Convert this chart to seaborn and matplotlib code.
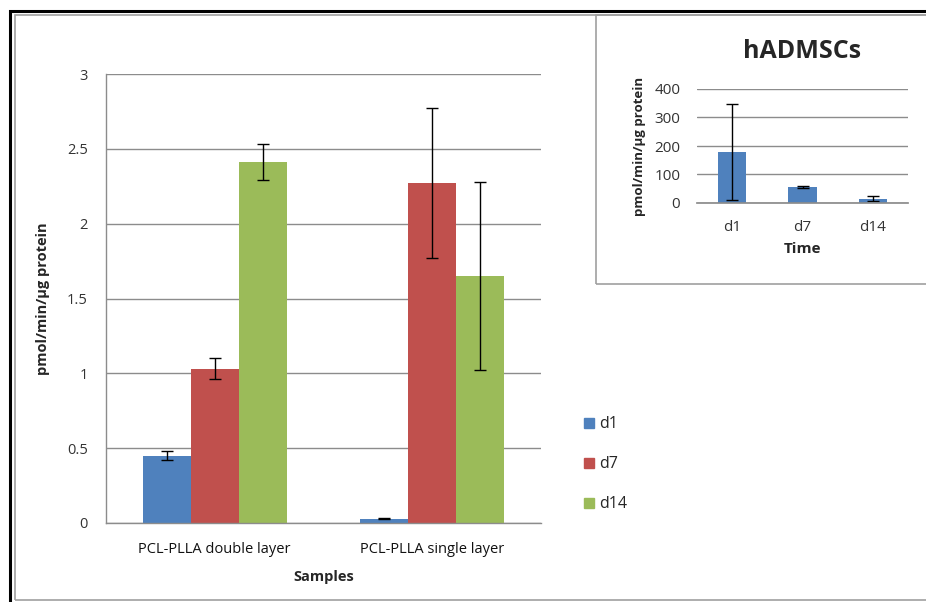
import matplotlib
matplotlib.use("Agg")
import matplotlib.pyplot as plt
import matplotlib.patches as mpatches
import seaborn as sns
import pandas as pd
import numpy as np

# ---- data ----
samples = ["PCL-PLLA double layer", "PCL-PLLA single layer"]
days = ["d1", "d7", "d14"]
vals_double = [0.45, 1.03, 2.41]
err_double = [0.03, 0.07, 0.12]
vals_single = [0.03, 2.27, 1.65]
err_single = [0.005, 0.50, 0.63]

inset_days = ["d1", "d7", "d14"]
inset_vals = [178, 57, 15]
inset_err = [168, 3, 8]

colors = ["#4F81BD", "#C0504D", "#9BBB59"]

sns.set_theme(style="white")
plt.rcParams["font.family"] = ["Open Sans", "DejaVu Sans"]

rows = []
for s, vals in zip(samples, [vals_double, vals_single]):
    for d, v in zip(days, vals):
        rows.append({"Samples": s, "Day": d, "Value": v})
df = pd.DataFrame(rows)
errs = {samples[0]: err_double, samples[1]: err_single}

fig = plt.figure(figsize=(9.26, 6.02), dpi=100)

# outer frame (extends beyond right and bottom edges, as in the reference)
fig.patches.append(mpatches.Rectangle((10/926, -0.05), 1.0, 1 - 11/602 + 0.05,
                                      transform=fig.transFigure, fill=False,
                                      edgecolor="black", linewidth=2.2))
fig.patches.append(mpatches.Rectangle((15/926, 1 - 600/602), 1.0, 585/602,
                                      transform=fig.transFigure, fill=False,
                                      edgecolor="#a0a0a0", linewidth=1.2))

ax = fig.add_axes([106/926, 1 - 523/602, (541 - 106)/926, (523 - 74)/602])
sns.barplot(data=df, x="Samples", y="Value", hue="Day", hue_order=days,
            palette=colors, width=0.66, errorbar=None, ax=ax, saturation=1,
            linewidth=0, legend=False)
bar_containers = list(ax.containers)
for ci, cont in enumerate(bar_containers):
    for bi, bar in enumerate(cont.patches):
        x = bar.get_x() + bar.get_width() / 2
        y = bar.get_height()
        e = errs[samples[bi]][ci]
        ax.errorbar(x, y, yerr=e, color="black", capsize=4, elinewidth=1, capthick=1)

ax.set_xlim(-0.5, 1.5)
ax.set_ylim(0, 3)
ax.set_yticks([0, 0.5, 1, 1.5, 2, 2.5, 3])
ax.set_yticklabels(["0", "0.5", "1", "1.5", "2", "2.5", "3"])
ax.yaxis.grid(True, color="#8c8c8c", linewidth=1)
ax.set_axisbelow(True)
for sp in ["top", "right"]:
    ax.spines[sp].set_visible(False)
for sp in ["left", "bottom"]:
    ax.spines[sp].set_color("#8c8c8c")
    ax.spines[sp].set_linewidth(1)
ax.tick_params(axis="y", length=5, color="#8c8c8c", labelsize=10.5, pad=8, colors="#333333")
ax.tick_params(axis="x", length=0, labelsize=10.5, pad=14, colors="#111111")
ax.set_xlabel("Samples", fontsize=10.5, fontweight="bold", labelpad=9)
ax.set_ylabel("pmol/min/µg protein", fontsize=10.5, fontweight="bold", labelpad=12)

handles = [mpatches.Patch(color=c, label=d) for c, d in zip(colors, days)]
fig.legend(handles=handles, loc="upper left", bbox_to_anchor=(570/926, 1 - 402/602),
           frameon=False, handlelength=0.6, handleheight=0.6, handletextpad=0.3,
           labelspacing=1.5, fontsize=11.5)

# inset box
fig.patches.append(mpatches.Rectangle((596/926, 1 - 284/602), 0.6, 269/602,
                                      transform=fig.transFigure, fill=False,
                                      edgecolor="#a0a0a0", linewidth=1.2))
iax = fig.add_axes([697/926, 1 - 203/602, (908 - 697)/926, (203 - 89)/602])
idf = pd.DataFrame({"Time": inset_days, "Value": inset_vals})
sns.barplot(data=idf, x="Time", y="Value", color=colors[0], saturation=1,
            width=0.4, errorbar=None, ax=iax, linewidth=0)
inset_bars = list(iax.containers[0].patches)
for bi, bar in enumerate(inset_bars):
    x = bar.get_x() + bar.get_width() / 2
    iax.errorbar(x, bar.get_height(), yerr=inset_err[bi], color="black",
                 capsize=4, elinewidth=1, capthick=1)
iax.set_xlim(-0.5, 2.5)
iax.set_ylim(0, 400)
iax.set_yticks([0, 100, 200, 300, 400])
iax.yaxis.grid(True, color="#8c8c8c", linewidth=1)
iax.set_axisbelow(True)
for sp in ["top", "right", "left"]:
    iax.spines[sp].set_visible(False)
iax.spines["bottom"].set_color("#8c8c8c")
iax.tick_params(axis="y", length=0, labelsize=11, pad=12, colors="#333333")
iax.tick_params(axis="x", length=0, labelsize=11, pad=12, colors="#333333")
iax.set_xlabel("Time", fontsize=11, fontweight="bold", labelpad=5)
iax.set_ylabel("pmol/min/µg protein", fontsize=9.5, fontweight="bold", labelpad=6)
iax.set_title("hADMSCs", fontsize=18, fontweight="bold", pad=22)

fig.savefig("out.png", dpi=100)
